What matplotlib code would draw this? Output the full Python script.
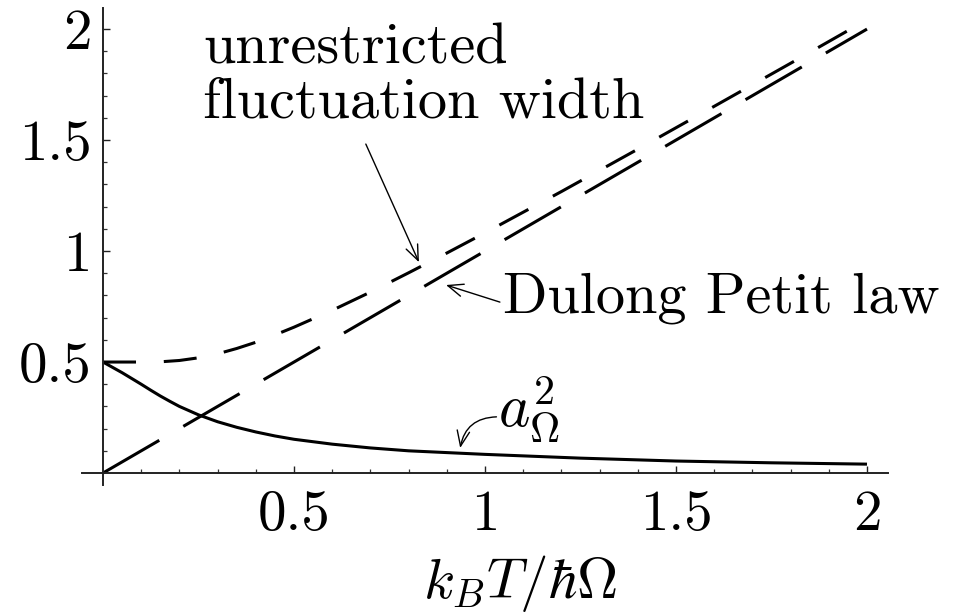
import matplotlib
matplotlib.use("Agg")
import matplotlib.pyplot as plt
from matplotlib.ticker import FixedLocator

plt.rcParams["mathtext.fontset"] = "cm"
plt.rcParams["font.family"] = "cmr10"
plt.rcParams["axes.formatter.use_mathtext"] = True

# reduced temperature k_B T / hbar Omega
t_width = [0.0, 0.05, 0.1, 0.15, 0.2, 0.25, 0.3, 0.35, 0.4, 0.45, 0.5,
           0.6, 0.7, 0.8, 0.9, 1.0, 1.2, 1.4, 1.6, 1.8, 2.0]
# unrestricted fluctuation width
width_vals = [0.5, 0.5, 0.5, 0.501, 0.507, 0.519, 0.537, 0.561, 0.589, 0.622, 0.657,
              0.733, 0.815, 0.902, 0.991, 1.082, 1.268, 1.459, 1.652, 1.846, 2.042]

# classical Dulong-Petit limit
t_dp = [0.0, 2.0]
dp_vals = [0.0, 2.0]

# a_Omega^2
t_a2 = [0.0, 0.025, 0.05, 0.075, 0.1, 0.125, 0.15, 0.175, 0.2, 0.25, 0.3, 0.35,
        0.4, 0.45, 0.5, 0.6, 0.7, 0.8, 0.9, 1.0, 1.25, 1.5, 1.75, 2.0]
a2_vals = [0.5, 0.476, 0.452, 0.426, 0.400, 0.373, 0.347, 0.323, 0.300, 0.262, 0.231,
           0.206, 0.185, 0.167, 0.152, 0.130, 0.113, 0.100, 0.092, 0.084, 0.067,
           0.054, 0.046, 0.040]

x_major = [0.5, 1.0, 1.5, 2.0]
x_labels = ["0.5", "1", "1.5", "2"]
y_major = [0.5, 1.0, 1.5, 2.0]
y_labels = ["0.5", "1", "1.5", "2"]
minor_ticks = [i / 10 for i in range(1, 21) if i % 5 != 0]

W, H = 965, 614
fig = plt.figure(figsize=(W / 100, H / 100), dpi=100)
ax = fig.add_axes([82 / W, 129 / H, 806 / W, 477 / H])
ax.set_xlim(-0.055, 2.055)
ax.set_ylim(-0.054, 2.095)

lw = 2.2
ax.plot(t_width, width_vals, color="black", lw=lw, dashes=(10.8, 9.1),
        solid_capstyle="butt", dash_capstyle="butt")
ax.plot(t_dp, dp_vals, color="black", lw=lw, dashes=(21.3, 9.1),
        dash_capstyle="butt")
ax.plot(t_a2, a2_vals, color="black", lw=lw, solid_capstyle="butt",
        solid_joinstyle="round")

for side in ("top", "right"):
    ax.spines[side].set_visible(False)
for side in ("left", "bottom"):
    ax.spines[side].set_position(("data", 0))
    ax.spines[side].set_linewidth(1.4)
    ax.spines[side].set_color("#222222")

ax.xaxis.set_major_locator(FixedLocator(x_major))
ax.yaxis.set_major_locator(FixedLocator(y_major))
ax.xaxis.set_minor_locator(FixedLocator(minor_ticks))
ax.yaxis.set_minor_locator(FixedLocator(minor_ticks))
ax.set_xticklabels(x_labels)
ax.set_yticklabels(y_labels)
ax.tick_params(which="major", direction="in", length=5, width=1.0, labelsize=41,
               color="#222222")
ax.tick_params(which="minor", direction="in", length=3, width=0.9, color="#333333")
ax.tick_params(axis="x", which="major", pad=12)
ax.tick_params(axis="y", which="major", pad=8)


def px(x, y):
    return x / W, 1 - y / H


fs = 42
fig.text(*px(203, 63), "unrestricted", fontsize=fs, va="baseline", ha="left")
fig.text(*px(203, 118), "fluctuation width", fontsize=fs, va="baseline", ha="left")
fig.text(*px(503, 313), "Dulong Petit law", fontsize=fs, va="baseline", ha="left")
fig.text(*px(498, 428), r"$a_\Omega^2$", fontsize=43, va="baseline", ha="left")
fig.text(*px(520, 598), r"$k_BT/\hbar\Omega$", fontsize=41, va="baseline", ha="center")

arrow_kw = dict(arrowstyle="->,head_length=1.1,head_width=0.45", lw=1.0,
                color="black", shrinkA=0, shrinkB=0, mutation_scale=10)
ax.annotate("", xy=(0.827, 0.95), xytext=(0.688, 1.482), arrowprops=arrow_kw)
ax.annotate("", xy=(0.898, 0.847), xytext=(1.039, 0.77), arrowprops=arrow_kw)
ax.annotate("", xy=(0.935, 0.113), xytext=(1.03, 0.253),
            arrowprops=dict(arrow_kw, connectionstyle="arc3,rad=0.4"))

fig.savefig("out.png", dpi=100)
